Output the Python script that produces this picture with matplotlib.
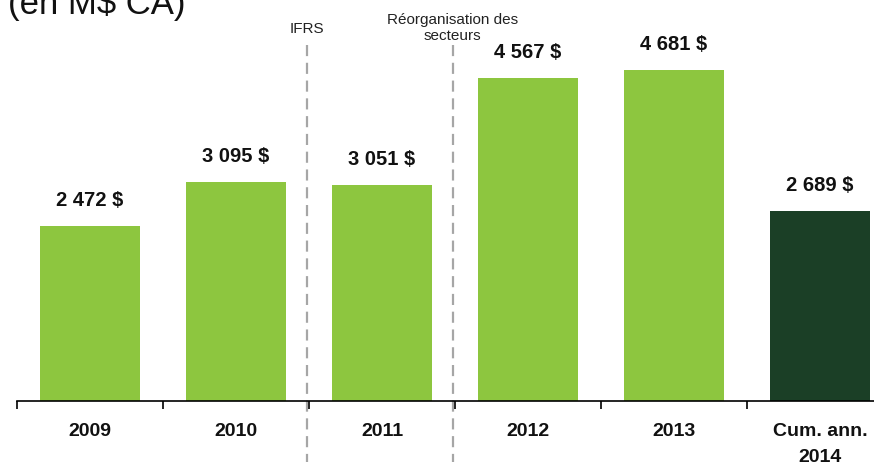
import matplotlib
matplotlib.use("Agg")
import matplotlib.pyplot as plt

plt.rcParams['font.family'] = ['Liberation Sans', 'DejaVu Sans']

categories = ["2009", "2010", "2011", "2012", "2013", "Cum. ann.\n2014"]
values = [2472, 3095, 3051, 4567, 4681, 2689]
labels = ["2 472 $", "3 095 $", "3 051 $", "4 567 $", "4 681 $", "2 689 $"]
colors = ["#8DC63F"] * 5 + ["#1B3F26"]
dividers = [(1.5, "IFRS"), (2.5, "Réorganisation des\nsecteurs")]

W, H = 874, 467
fig = plt.figure(figsize=(W / 100, H / 100), dpi=100)
left_px, axis_px, step_px = 17, 401, 146
pxu = 0.0708
ax = fig.add_axes([left_px / W, (H - axis_px) / H, 1 - left_px / W, axis_px / H])
ax.set_xlim(-0.5, -0.5 + (W - left_px) / step_px)
ymax = axis_px / pxu
ax.set_ylim(0, ymax)

x = list(range(len(categories)))
ax.bar(x, values, width=0.68, color=colors, zorder=2)
for xi, v, lab in zip(x, values, labels):
    ax.annotate(lab, (xi, v), xytext=(0, 11.5), textcoords="offset points",
                ha="center", va="bottom", fontsize=14.5, fontweight="bold", color="#111111")

for spine in ["top", "right", "left"]:
    ax.spines[spine].set_visible(False)
ax.spines["bottom"].set_linewidth(1.2)
ax.set_yticks([])
ax.set_xticks([i - 0.5 for i in range(len(categories))], minor=False)
ax.set_xticklabels([])
ax.tick_params(axis="x", length=6, width=1.2, direction="out")
for xi, c in zip(x, categories):
    ax.text(xi, -22 / pxu, c, ha="center", va="top", fontsize=14,
            fontweight="bold", color="#111111", linespacing=1.7, clip_on=False)

for xd, txt in dividers:
    ax.plot([xd - 0.015, xd - 0.015], [ymax - 45 / pxu, -61 / pxu],
            linestyle=(0, (5, 3)), color="#A6A6A6", linewidth=1.6, clip_on=False, zorder=1)
    ax.text(xd - 0.015, ymax - 36 / pxu if txt == "IFRS" else ymax - 43 / pxu,
            txt, ha="center", va="bottom", fontsize=11, color="#222222",
            linespacing=1.2)

fig.text(8 / W, 1 - 14 / H, "(en M$ CA)", fontsize=25, ha="left", va="baseline", color="#111111")

fig.savefig("out.png", dpi=100)
